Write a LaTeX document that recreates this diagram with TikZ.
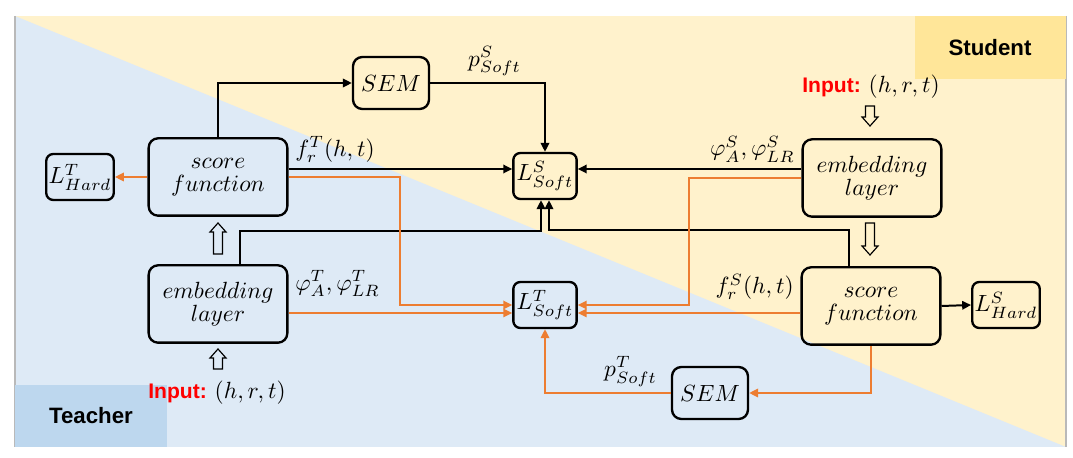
\documentclass[tikz,border=0pt]{standalone}
\usepackage{fontspec}
\newfontfamily\headfont{Liberation Sans}
\usetikzlibrary{arrows.meta}

\begin{document}
\begin{tikzpicture}[
  x=0.015cm,y=-0.015cm,
  >={Triangle[length=3.8pt,width=3.6pt]},
  bigbox/.style={draw,line width=1pt,rounded corners=4pt,
    minimum width=2.08cm,minimum height=1.16cm,align=center},
  lossbox/.style={draw,line width=1pt,rounded corners=3pt,
    minimum width=0.95cm,minimum height=0.69cm,inner sep=1pt},
  sembox/.style={draw,line width=1pt,rounded corners=4pt,
    minimum width=1.14cm,minimum height=0.78cm},
  blk/.style={->,line width=0.85pt},
  org/.style={->,line width=0.8pt,draw=orgc},
  lab/.style={inner sep=2.5pt},
  tag/.style={font=\headfont\bfseries\fontsize{9.5}{12}\selectfont},
  hollow/.pic={\draw[line width=0.5pt] (-4.5,#1) -- (-4.5,9-#1) -- (-8,9-#1)
    -- (0,-#1) -- (8,9-#1) -- (4.5,9-#1) -- (4.5,#1) -- cycle;}]

  \definecolor{yelbg}{RGB}{255,242,204}
  \definecolor{blubg}{RGB}{222,234,246}
  \definecolor{stuc}{RGB}{255,230,153}
  \definecolor{teac}{RGB}{189,215,238}
  \definecolor{orgc}{RGB}{237,125,49}

  \useasboundingbox (0,0) rectangle (1073,458);

  % ---- background halves ----
  \fill[yelbg] (15,16) rectangle (1066,447);
  \fill[blubg] (15,16) -- (1066,447) -- (15,447) -- cycle;
  \draw[gray!55,line width=0.6pt] (15,16) -- (15,447) (1066,16) -- (1066,447);
  \fill[stuc] (915,16) rectangle (1066,79);
  \fill[teac] (15,385) rectangle (167,447);
  \node[tag] (stulab) at (990,48) {Student};
  \node[tag] (tealab) at (91,416) {Teacher};

  % ---- teacher side ----
  \node[lossbox] (thard) at (80,177) {$L^{T}_{Hard}$};
  \node[bigbox] (tscore) at (218,177) {$score$\\[-2pt]$function$};
  \node[bigbox] (tembed) at (218,304) {$embedding$\\[-2pt]$layer$};
  \node (tin) at (217,393) {{\color{red}\headfont\bfseries\fontsize{9}{11}\selectfont Input:}\ $(h,r,t)$};

  % ---- losses and SEMs ----
  \node[sembox] (semtop) at (391,83) {$SEM$};
  \node[lossbox] (lsoftS) at (545,176) {$L^{S}_{Soft}$};
  \node[lossbox] (lsoftT) at (545,305) {$L^{T}_{Soft}$};
  \node[sembox] (sembot) at (710,393) {$SEM$};

  % ---- student side ----
  \node (sin) at (871,87) {{\color{red}\headfont\bfseries\fontsize{9}{11}\selectfont Input:}\ $(h,r,t)$};
  \node[bigbox] (sembed) at (872,178) {$embedding$\\[-2pt]$layer$};
  \node[bigbox] (sscore) at (871,306) {$score$\\[-2pt]$function$};
  \node[lossbox] (shard) at (1006,305) {$L^{S}_{Hard}$};

  \coordinate (tcol) at (400,177);
  \coordinate (scol) at (689,178);

  % ---- hollow arrows ----
  \pic at (218,238.5) {hollow=15.5};
  \pic at (218,359) {hollow=10};
  \pic[rotate=180] at (870,116) {hollow=10};
  \pic[rotate=180] at (870,239) {hollow=16};

  % ---- black flows ----
  \draw[blk] (tscore.north) |- (semtop.west);
  \draw[blk] (semtop.east) -| (lsoftS.north)
    node[lab,pos=0.28,above] {$p^{S}_{Soft}$};
  \draw[blk] ([yshift=.105cm]lsoftS.west -| tscore.east) -- ([yshift=.105cm]lsoftS.west)
    node[lab,pos=0,anchor=south west] {$f^{T}_{r}(h,t)$};
  \draw[blk] ([yshift=.105cm]lsoftS.east -| sembed.west) -- ([yshift=.105cm]lsoftS.east)
    node[lab,pos=0,anchor=south east] {$\varphi^{S}_{A},\varphi^{S}_{LR}$};
  \draw[blk] ([xshift=.33cm]tembed.north) -- ++(0,-33) -| ([xshift=-.06cm]lsoftS.south);
  \draw[blk] ([xshift=-.33cm]sscore.north) -- ++(0,-36) -| ([xshift=.06cm]lsoftS.south);
  \draw[blk] (sscore.east) -- (shard.west);

  % ---- orange flows ----
  \draw[org] (tscore.west) -- (thard.east);
  \draw[org] (tscore.east) -| (tcol |- lsoftT.west) -- (lsoftT.west);
  \draw[org] ([yshift=-.12cm]lsoftT.west -| tembed.east) -- ([yshift=-.12cm]lsoftT.west)
    node[lab,pos=0,anchor=south west,yshift=.14cm] {$\varphi^{T}_{A},\varphi^{T}_{LR}$};
  \draw[org] (sembed.west) -| (scol |- lsoftT.east) -- (lsoftT.east);
  \draw[org] ([yshift=-.12cm]lsoftT.east -| sscore.west) -- ([yshift=-.12cm]lsoftT.east)
    node[lab,pos=0,anchor=south east,yshift=.1cm] {$f^{S}_{r}(h,t)$};
  \draw[org] (sscore.south) |- (sembot.east);
  \draw[org] (sembot.west) -| (lsoftT.south)
    node[lab,pos=0.16,above] {$p^{T}_{Soft}$};
\end{tikzpicture}
\end{document}
